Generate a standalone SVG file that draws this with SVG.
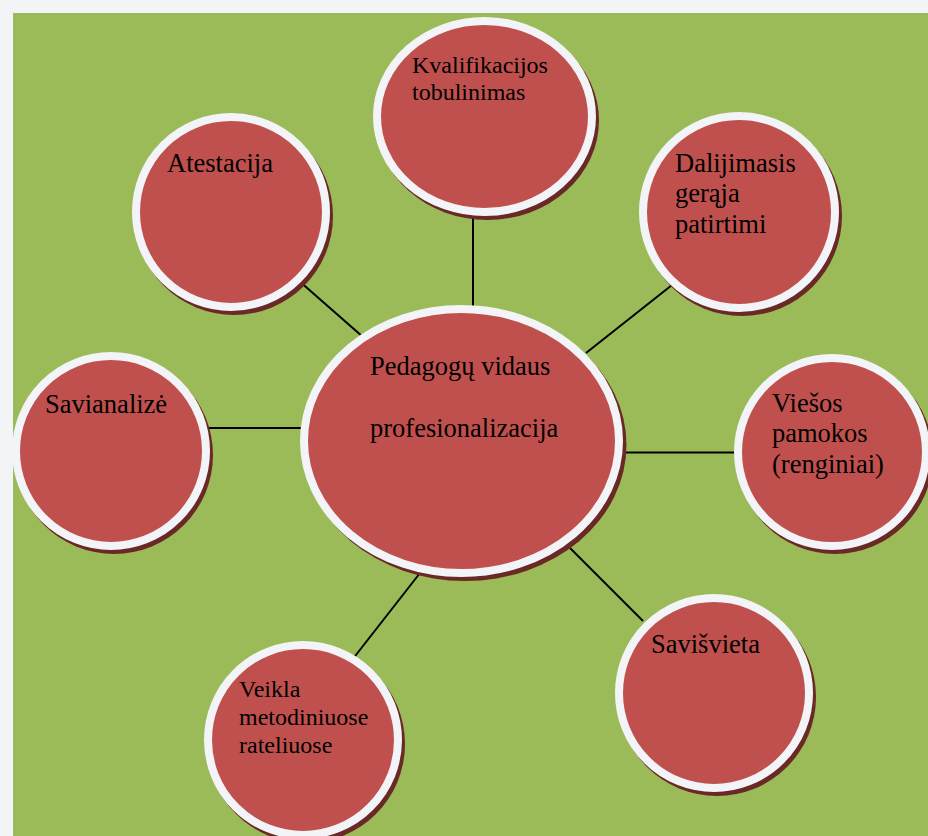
<svg xmlns="http://www.w3.org/2000/svg" width="928" height="836" viewBox="0 0 928 836">
<style>
.sh{fill:#6a2826}
.nd{fill:#c0504d;stroke:#f3f4f7;stroke-width:8}
.tx{font-family:"Liberation Serif","Times New Roman",serif;font-size:26.5px;fill:#000}
.sm{font-size:24px}
.cn line{stroke:#000;stroke-width:2}
</style>
<rect x="0" y="0" width="928" height="836" fill="#f3f4f6"/>
<rect x="13" y="13" width="915" height="823" fill="#9bbb59"/>
<g class="cn">
<line x1="298" y1="280" x2="363" y2="337"/>
<line x1="473" y1="212" x2="473" y2="308"/>
<line x1="672" y1="285" x2="586" y2="353"/>
<line x1="618" y1="452.5" x2="740" y2="452.5"/>
<line x1="207" y1="428" x2="304" y2="428"/>
<line x1="570" y1="548" x2="643" y2="621"/>
<line x1="420" y1="573" x2="352" y2="660"/>
</g>
<g id="center">
<ellipse class="sh" cx="465" cy="445" rx="161.5" ry="136"/>
<ellipse class="nd" cx="461.5" cy="441" rx="157.5" ry="132"/>
<text class="tx" x="370" y="375">Pedagogų vidaus</text>
<text class="tx" x="370" y="437">profesionalizacija</text>
</g>
<g id="atestacija">
<circle class="sh" cx="234" cy="216" r="99"/>
<circle class="nd" cx="231" cy="212" r="95"/>
<text class="tx" x="167" y="172">Atestacija</text>
</g>
<g id="kvalifikacijos">
<ellipse class="sh" cx="487.5" cy="120.5" rx="111.5" ry="99.5"/>
<ellipse class="nd" cx="484.5" cy="116.5" rx="107.5" ry="95.5"/>
<text class="tx sm" x="412" y="73">Kvalifikacijos</text>
<text class="tx sm" x="412" y="100">tobulinimas</text>
</g>
<g id="dalijimasis">
<circle class="sh" cx="742" cy="216" r="100"/>
<circle class="nd" cx="739" cy="212" r="96"/>
<text class="tx" x="675" y="172">Dalijimasis</text>
<text class="tx" x="675" y="202">gerąja</text>
<text class="tx" x="675" y="233">patirtimi</text>
</g>
<g id="viesos">
<circle class="sh" cx="835" cy="456" r="98"/>
<circle class="nd" cx="832" cy="452" r="94"/>
<text class="tx" x="772" y="412">Viešos</text>
<text class="tx" x="772" y="442">pamokos</text>
<text class="tx" x="772" y="473">(renginiai)</text>
</g>
<g id="savianalize">
<circle class="sh" cx="114" cy="455" r="99"/>
<circle class="nd" cx="111" cy="451" r="95"/>
<text class="tx" x="45" y="413">Savianalizė</text>
</g>
<g id="veikla">
<circle class="sh" cx="306" cy="744" r="99"/>
<circle class="nd" cx="303" cy="740" r="95"/>
<text class="tx sm" x="239" y="697">Veikla</text>
<text class="tx sm" x="239" y="725">metodiniuose</text>
<text class="tx sm" x="239" y="753">rateliuose</text>
</g>
<g id="savisvieta">
<circle class="sh" cx="717" cy="697" r="99"/>
<circle class="nd" cx="714" cy="693" r="95"/>
<text class="tx" x="651" y="653">Savišvieta</text>
</g>
</svg>
